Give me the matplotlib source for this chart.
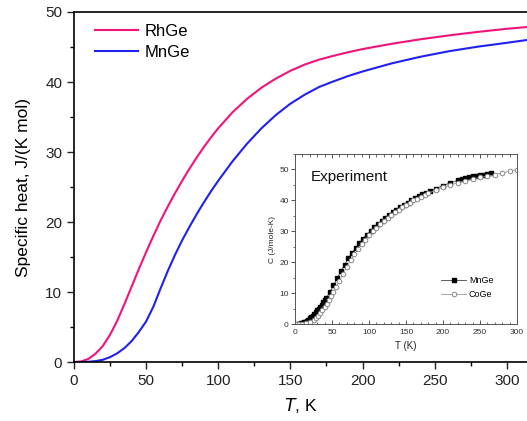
import numpy as np
import matplotlib.pyplot as plt
from matplotlib.ticker import MultipleLocator

plt.rcParams['font.family'] = ['Liberation Sans', 'DejaVu Sans']

# calculated curves (main panel)
t_rh = [0, 5, 10, 15, 20, 25, 30, 35, 40, 45, 50, 55, 60, 65, 70, 75, 80, 85, 90,
        95, 100, 110, 120, 130, 140, 150, 160, 170, 180, 190, 200, 220, 240, 260,
        280, 300, 314]
c_rh = [0, 0.08, 0.45, 1.2, 2.3, 3.9, 5.9, 8.3, 10.8, 13.3, 15.7, 18.0, 20.2,
        22.2, 24.1, 25.9, 27.6, 29.2, 30.7, 32.1, 33.4, 35.7, 37.6, 39.2, 40.5,
        41.6, 42.5, 43.2, 43.75, 44.25, 44.7, 45.45, 46.1, 46.66, 47.16, 47.6, 47.85]

t_mn = [0, 5, 10, 15, 20, 25, 30, 35, 40, 45, 50, 55, 60, 65, 70, 75, 80, 85, 90,
        95, 100, 110, 120, 130, 140, 150, 160, 170, 180, 190, 200, 220, 240, 260,
        280, 300, 314]
c_mn = [0, 0.0, 0.04, 0.13, 0.32, 0.7, 1.25, 2.0, 3.0, 4.3, 5.8, 7.9, 10.5, 13.0,
        15.3, 17.4, 19.3, 21.1, 22.8, 24.4, 25.9, 28.7, 31.2, 33.4, 35.3, 36.9,
        38.2, 39.3, 40.1, 40.85, 41.5, 42.65, 43.6, 44.4, 45.05, 45.6, 46.0]

# experiment (inset)
t_exp_mn = [2, 5, 8, 10, 12, 14, 16, 18, 20, 22, 24, 26, 28, 30, 32, 34, 36, 38,
            40, 42, 47, 52, 57, 62, 67, 72, 77, 82, 87, 92, 97, 102, 107, 112,
            117, 122, 127, 132, 137, 142, 147, 152, 157, 162, 167, 172, 177, 182,
            190, 200, 210, 220, 225, 230, 235, 240, 245, 250, 255, 260, 265]
c_exp_mn = [0.05, 0.1, 0.3, 0.4, 0.6, 0.8, 1.1, 1.4, 1.8, 2.2, 2.7, 3.2, 3.8, 4.4,
            5.0, 5.6, 6.3, 7.0, 7.7, 8.3, 10.3, 12.5, 14.8, 17.0, 19.2, 21.2, 23.0,
            24.7, 26.2, 27.6, 28.9, 30.1, 31.3, 32.4, 33.4, 34.4, 35.3, 36.2, 37.0,
            37.8, 38.6, 39.3, 40.0, 40.7, 41.3, 41.9, 42.5, 43.0, 43.8, 44.8, 45.7,
            46.5, 46.9, 47.2, 47.5, 47.8, 48.0, 48.2, 48.3, 48.5, 48.7]

t_exp_co = [2, 5, 10, 15, 20, 25, 28, 31, 34, 37, 40, 43, 46, 49, 52, 56, 60, 65,
            70, 75, 80, 85, 90, 95, 100, 105, 110, 115, 120, 125, 130, 135, 140,
            145, 150, 155, 160, 165, 170, 175, 180, 190, 200, 210, 220, 230, 240,
            250, 260, 270, 280, 290, 300]
c_exp_co = [0, 0, 0.1, 0.3, 0.7, 1.4, 2.0, 2.7, 3.5, 4.4, 5.4, 6.5, 7.7, 9.0, 10.3,
            12.1, 14.0, 16.3, 18.5, 20.6, 22.5, 24.2, 25.8, 27.3, 28.7, 30.0, 31.2,
            32.3, 33.4, 34.4, 35.3, 36.2, 37.0, 37.8, 38.6, 39.3, 40.0, 40.6, 41.2,
            41.8, 42.3, 43.3, 44.2, 45.0, 45.7, 46.3, 46.9, 47.4, 47.8, 48.3, 48.9,
            49.4, 49.9]

fig = plt.figure(figsize=(5.27, 4.21), dpi=100)
ax = fig.add_axes([0.1404, 0.1401, 0.8596, 0.8314])

ax.plot(t_rh, c_rh, color='#f0147a', lw=1.5, label='RhGe')
ax.plot(t_mn, c_mn, color='#2020f0', lw=1.5, label='MnGe')
ax.set_xlim(0, 314)
ax.set_ylim(0, 50)
ax.xaxis.set_major_locator(MultipleLocator(50))
ax.xaxis.set_minor_locator(MultipleLocator(25))
ax.yaxis.set_major_locator(MultipleLocator(10))
ax.yaxis.set_minor_locator(MultipleLocator(5))
ax.tick_params(which='major', length=5, width=1, labelsize=11, colors='#222222')
ax.tick_params(which='minor', length=3, width=1)
ax.spines['right'].set_visible(False)
for s in ['left', 'bottom', 'top']:
    ax.spines[s].set_linewidth(1.2)
ax.set_xlabel(r'$T$, K', fontsize=12.5, labelpad=6)
ax.set_ylabel('Specific heat, J/(K mol)', fontsize=12.5, labelpad=10)
ax.legend(loc='upper left', fontsize=12, frameon=False, handlelength=2.6,
          handletextpad=0.4, labelspacing=0.4, borderaxespad=0.3,
          bbox_to_anchor=(0.02, 1.0))

# inset
ins = fig.add_axes([0.5598, 0.2304, 0.4213, 0.4038])
ins.plot(t_exp_mn, c_exp_mn, color='#444444', lw=0.6, marker='s', ms=3.0,
         mfc='black', mec='black', label='MnGe')
ins.plot(t_exp_co, c_exp_co, color='#999999', lw=0.6, marker='o', ms=3.3,
         mfc='white', mec='#888888', mew=0.7, label='CoGe')
ins.set_xlim(0, 300)
ins.set_ylim(0, 55)
ins.xaxis.set_major_locator(MultipleLocator(50))
ins.xaxis.set_minor_locator(MultipleLocator(10))
ins.yaxis.set_major_locator(MultipleLocator(10))
ins.yaxis.set_minor_locator(MultipleLocator(5))
ins.tick_params(axis='x', which='both', direction='in', top=True, labelsize=6,
                colors='#333333', pad=3.5)
ins.tick_params(axis='y', which='both', direction='out', labelsize=6,
                colors='#333333', pad=1.5)
ins.tick_params(which='major', length=3, width=0.6)
ins.tick_params(which='minor', length=1.8, width=0.5)
for s in ins.spines.values():
    s.set_linewidth(0.7)
    s.set_color('#555555')
ins.set_xlabel('T (K)', fontsize=7, labelpad=3.5, color='#222222')
ins.set_ylabel('C (J/mole-K)', fontsize=6, labelpad=2, color='#222222')
ins.text(0.07, 0.84, 'Experiment', transform=ins.transAxes, fontsize=11,
         color='#111111')
ins.legend(loc='lower right', fontsize=6.5, frameon=False, handlelength=2.8,
           handletextpad=0.3, labelspacing=0.5, bbox_to_anchor=(0.93, 0.1))

fig.savefig('out.png', dpi=100)
